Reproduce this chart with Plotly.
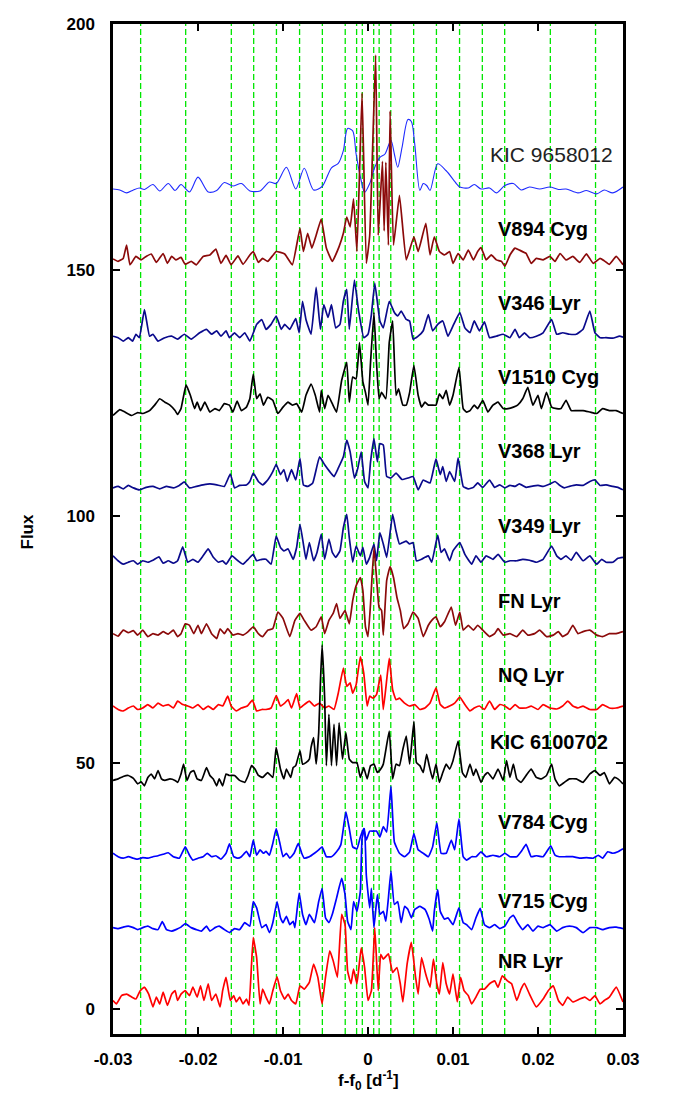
import plotly.graph_objects as go

# Frequencies are listed in units of 1e-4 d^-1 (f - f0); flux in the plot's offset units.
FREQ_UNIT = 1e-4

kic9658012 = [(-300,166.5),(-292,166.3),(-284,165.7),(-276,166.3),(-269,166.7),(-263,166.4),(-253,167.4),(-245,166.1),(-235,167.6),(-227,166.2),(-220,167.4),(-210,165.9),(-200,168.9),(-188,165.9),(-178,166.2),(-169,167.8),(-159,167.1),(-149,167.6),(-139,166.1),(-127,166.1),(-116,167.9),(-108,167.6),(-96,170.9),(-85,166.5),(-75,170.7),(-64,166.3),(-54,167.0),(-43,170.8),(-35,171.7),(-29,174.3),(-24,178.8),(-18,178.3),(-14,173.6),(-8,168.2),(-4,165.8),(2,167.6),(8,170.9),(14,172.9),(20,173.6),(27,176.4),(31,173.6),(35,170.9),(40,174.9),(47,180.6),(51,180.2),(55,175.6),(61,166.2),(65,167.6),(69,167.2),(73,166.2),(82,171.6),(92,170.2),(104,167.6),(108,166.9),(118,166.7),(125,167.4),(133,166.5),(143,166.7),(151,165.7),(161,167.2),(171,167.6),(180,166.3),(190,166.9),(202,166.5),(214,166.9),(224,166.4),(233,166.5),(247,165.7),(257,166.2),(269,165.5),(278,166.3),(288,165.7),(300,166.9)]

v894cyg = [(-300,152.3),(-294,151.8),(-288,152.4),(-284,155.1),(-280,151.1),(-273,152.8),(-267,152.1),(-261,152.8),(-255,153.3),(-249,151.6),(-241,153.4),(-236,151.4),(-231,152.8),(-226,152.1),(-220,152.6),(-215,151.2),(-208,151.8),(-202,151.1),(-194,152.8),(-186,153.1),(-179,154.3),(-173,151.4),(-167,153.0),(-161,151.1),(-153,152.9),(-147,151.2),(-139,153.1),(-135,153.8),(-129,151.6),(-124,152.4),(-118,151.8),(-112,153.0),(-108,153.8),(-98,153.3),(-89,151.1),(-80,158.5),(-76,153.8),(-71,157.5),(-66,154.5),(-61,157.1),(-55,160.4),(-49,154.5),(-42,151.8),(-34,154.8),(-29,157.5),(-25,160.8),(-21,158.8),(-17,164.5),(-13,153.8),(-7,186.0),(-2,151.4),(2,157.0),(9,193.7),(12,157.1),(17,172.1),(19,158.0),(21,171.9),(24,155.1),(26,182.3),(30,155.1),(37,165.2),(45,152.1),(54,156.8),(59,153.8),(68,159.5),(73,153.1),(78,156.8),(84,153.8),(90,153.1),(96,153.8),(100,151.4),(106,153.4),(112,152.1),(118,154.1),(124,152.1),(129,153.8),(133,154.6),(139,152.1),(145,153.1),(151,152.1),(157,151.8),(161,150.8),(167,153.1),(173,154.5),(178,154.1),(186,153.4),(192,151.4),(198,152.4),(206,152.1),(214,152.8),(220,151.8),(226,153.4),(233,152.1),(241,152.8),(249,151.6),(257,153.3),(265,151.4),(273,152.4),(278,151.9),(284,151.2),(292,152.8),(300,151.1)]

v346lyr = [(-300,136.6),(-294,136.3),(-288,135.6),(-282,136.3),(-277,135.6),(-273,137.0),(-269,136.3),(-263,142.0),(-257,136.6),(-253,137.0),(-247,135.6),(-239,136.3),(-231,136.6),(-224,136.0),(-216,137.0),(-208,136.0),(-198,137.3),(-190,138.0),(-184,137.0),(-178,137.7),(-173,136.6),(-167,137.7),(-163,136.3),(-157,137.3),(-151,136.3),(-145,137.3),(-139,135.6),(-131,139.0),(-125,140.0),(-120,138.0),(-114,139.0),(-108,140.7),(-102,138.0),(-98,139.0),(-92,138.0),(-85,140.2),(-81,137.3),(-77,143.7),(-73,140.0),(-67,137.0),(-61,146.5),(-56,138.0),(-52,143.0),(-47,140.4),(-43,143.0),(-38,138.3),(-33,139.0),(-29,143.7),(-25,146.1),(-22,138.0),(-16,148.0),(-11,141.7),(-5,136.3),(0,137.0),(4,141.0),(8,147.4),(14,139.7),(18,138.3),(25,143.7),(31,141.4),(35,140.7),(39,141.7),(45,140.0),(49,139.7),(53,136.0),(59,136.6),(65,137.7),(71,141.0),(76,137.7),(82,139.0),(88,139.7),(94,136.6),(100,138.7),(108,141.4),(114,138.3),(120,137.3),(125,139.7),(131,137.7),(137,139.5),(143,136.3),(151,136.6),(159,137.0),(167,136.3),(173,138.0),(178,136.3),(184,137.3),(190,136.3),(198,136.6),(206,137.3),(216,140.0),(222,137.0),(229,137.3),(237,137.0),(245,137.0),(253,138.0),(261,141.7),(267,137.3),(273,136.3),(280,136.3),(288,136.2),(296,136.6),(300,136.4)]

v1510cyg = [(-300,120.5),(-292,121.7),(-286,121.2),(-278,120.5),(-271,121.1),(-265,120.9),(-257,121.5),(-251,122.6),(-245,123.9),(-239,123.2),(-233,122.6),(-227,121.5),(-224,120.7),(-220,121.9),(-214,126.7),(-209,124.6),(-204,121.9),(-201,123.2),(-197,121.5),(-192,123.2),(-186,121.2),(-180,121.9),(-175,121.5),(-169,122.9),(-163,122.6),(-159,121.2),(-154,123.4),(-149,121.5),(-143,122.2),(-139,123.9),(-135,128.9),(-131,123.9),(-127,124.9),(-123,122.6),(-118,124.2),(-112,123.6),(-106,120.9),(-100,122.2),(-94,123.2),(-89,122.6),(-84,122.9),(-78,121.2),(-73,124.6),(-67,126.9),(-62,124.6),(-57,121.2),(-55,125.6),(-51,121.9),(-47,124.6),(-42,122.9),(-37,121.2),(-31,127.6),(-25,131.3),(-22,123.2),(-18,128.3),(-14,127.9),(-10,135.3),(-6,127.3),(-3,125.2),(0,122.6),(3,131.3),(7,141.4),(10,131.3),(13,123.9),(16,125.2),(21,123.9),(25,135.3),(29,139.7),(33,124.6),(36,125.9),(41,122.6),(45,122.6),(49,125.2),(54,130.7),(59,124.6),(63,122.2),(67,123.2),(71,122.6),(75,122.6),(80,122.6),(84,124.9),(88,123.9),(92,125.6),(96,122.6),(100,124.6),(107,130.3),(112,121.9),(116,121.2),(120,121.5),(125,122.6),(129,121.9),(135,123.6),(141,121.2),(147,122.6),(153,123.2),(159,121.9),(165,121.9),(171,122.2),(176,122.6),(182,123.9),(188,126.2),(194,122.6),(200,124.6),(204,121.9),(210,125.2),(216,122.2),(222,121.9),(227,121.9),(233,123.6),(239,121.5),(245,121.5),(253,121.5),(261,121.2),(269,120.9),(276,121.9),(284,121.5),(292,121.5),(300,120.9)]

v368lyr = [(-300,105.8),(-294,106.1),(-288,105.6),(-282,106.3),(-276,105.8),(-269,105.4),(-261,105.9),(-253,106.1),(-245,105.6),(-237,106.1),(-229,105.8),(-222,106.3),(-216,107.0),(-210,105.8),(-202,106.1),(-194,106.4),(-186,106.6),(-178,106.4),(-169,106.1),(-162,108.6),(-157,105.8),(-151,106.3),(-143,106.4),(-139,107.1),(-135,108.8),(-129,107.1),(-124,106.4),(-118,107.4),(-112,109.1),(-108,110.6),(-103,108.5),(-99,109.5),(-95,107.1),(-90,109.5),(-85,107.4),(-80,111.8),(-76,106.4),(-71,106.1),(-65,106.8),(-57,112.1),(-51,110.5),(-45,109.1),(-40,108.1),(-35,109.8),(-29,112.1),(-25,115.5),(-21,113.1),(-16,107.8),(-12,109.8),(-8,113.1),(-4,107.1),(0,105.8),(3,111.1),(7,115.8),(11,111.1),(14,114.8),(18,114.5),(22,108.1),(27,107.8),(33,108.8),(40,107.5),(47,107.8),(53,108.1),(59,105.4),(65,107.4),(73,106.8),(80,111.7),(85,108.5),(88,110.1),(92,107.1),(96,109.1),(102,107.1),(106,111.9),(112,106.1),(118,105.6),(124,105.9),(129,106.8),(135,105.9),(143,107.4),(149,105.9),(155,106.4),(161,105.8),(167,106.3),(173,106.1),(178,106.6),(186,105.9),(192,106.1),(200,106.3),(206,106.1),(214,106.6),(220,107.1),(225,106.4),(231,105.8),(237,106.1),(245,106.4),(253,106.3),(261,107.1),(267,107.4),(273,106.3),(280,106.4),(288,106.1),(294,105.9),(300,105.4)]

v349lyr = [(-300,92.0),(-294,91.0),(-288,90.3),(-282,90.7),(-276,91.0),(-271,90.3),(-265,91.0),(-259,90.7),(-253,91.1),(-246,91.8),(-241,90.5),(-235,91.0),(-229,90.5),(-224,91.0),(-218,93.8),(-212,90.7),(-206,91.3),(-200,90.7),(-194,92.0),(-188,93.4),(-182,91.7),(-176,90.7),(-171,91.0),(-167,90.3),(-160,92.0),(-153,91.0),(-147,90.3),(-141,91.3),(-135,92.3),(-131,91.0),(-125,91.3),(-120,91.3),(-114,90.3),(-108,96.0),(-103,93.7),(-99,93.0),(-94,93.4),(-88,91.3),(-84,93.7),(-80,98.4),(-76,94.4),(-73,91.3),(-69,94.7),(-64,91.0),(-60,92.7),(-55,96.4),(-51,91.3),(-46,95.4),(-42,92.7),(-38,91.7),(-33,93.0),(-29,97.7),(-25,100.4),(-22,95.7),(-18,90.7),(-14,94.0),(-9,92.0),(-6,93.7),(-2,90.3),(2,91.7),(7,94.4),(10,91.0),(14,96.7),(18,94.4),(22,91.7),(29,100.4),(33,97.0),(37,94.4),(41,94.7),(45,95.0),(49,94.4),(53,94.7),(57,91.0),(63,91.3),(67,91.7),(71,92.0),(75,90.7),(82,96.2),(86,92.7),(90,93.4),(96,91.0),(100,93.0),(108,94.7),(114,92.3),(122,90.3),(127,92.0),(133,90.7),(139,92.0),(147,91.3),(153,92.3),(161,90.7),(167,91.0),(175,91.0),(182,91.3),(190,91.1),(198,90.7),(206,91.3),(216,94.0),(222,92.0),(227,91.3),(233,92.0),(239,91.1),(245,92.7),(253,91.0),(261,92.0),(269,90.3),(275,91.3),(280,90.7),(288,90.7),(294,91.5),(300,91.7)]

fnlyr = [(-300,76.2),(-294,75.7),(-288,76.9),(-282,76.4),(-276,76.8),(-271,75.9),(-265,76.9),(-259,75.6),(-253,76.2),(-247,75.9),(-241,76.6),(-235,76.1),(-229,76.9),(-224,75.6),(-220,76.2),(-215,78.2),(-210,77.9),(-205,76.2),(-200,77.9),(-196,76.2),(-190,78.2),(-184,76.2),(-178,75.2),(-174,77.2),(-169,76.2),(-165,77.2),(-159,75.9),(-153,76.2),(-147,75.9),(-141,76.6),(-135,77.6),(-129,76.2),(-124,75.6),(-118,76.9),(-112,77.2),(-106,80.6),(-100,79.3),(-92,75.6),(-86,78.9),(-80,80.3),(-75,78.9),(-67,76.9),(-61,77.6),(-55,79.6),(-51,76.2),(-46,78.9),(-41,80.3),(-37,82.3),(-33,79.3),(-27,80.9),(-22,78.2),(-18,82.9),(-14,85.9),(-9,87.6),(-6,84.9),(-3,77.6),(0,75.6),(3,82.3),(7,93.7),(10,87.6),(13,81.6),(16,80.9),(18,75.9),(22,87.0),(26,89.8),(30,87.6),(34,83.6),(38,80.9),(42,77.2),(47,78.2),(53,80.6),(59,79.3),(65,75.6),(71,77.9),(75,78.9),(80,79.6),(85,77.6),(90,78.6),(98,81.6),(103,77.9),(108,80.6),(112,76.9),(118,77.9),(124,76.9),(129,77.9),(135,76.9),(143,75.6),(149,76.2),(153,77.2),(159,75.9),(167,76.2),(175,75.6),(182,76.9),(188,75.9),(196,76.2),(202,76.9),(210,75.6),(218,75.9),(224,76.6),(229,75.6),(235,76.2),(241,77.9),(247,76.2),(253,76.6),(261,76.9),(269,75.9),(276,75.6),(284,76.2),(292,76.2),(300,76.6)]

nqlyr = [(-300,61.5),(-294,60.8),(-288,60.5),(-282,61.1),(-276,61.5),(-271,60.8),(-265,61.1),(-259,61.8),(-253,61.1),(-247,62.1),(-241,61.5),(-235,61.8),(-229,61.1),(-224,62.5),(-218,61.8),(-212,61.5),(-206,61.1),(-200,61.8),(-194,60.8),(-188,61.5),(-182,60.8),(-176,61.8),(-171,61.5),(-165,63.5),(-161,61.5),(-155,60.5),(-149,61.1),(-142,61.5),(-136,62.7),(-131,60.5),(-125,60.8),(-120,60.8),(-114,61.1),(-108,63.6),(-103,61.5),(-98,62.1),(-94,62.8),(-90,61.1),(-84,64.0),(-80,61.1),(-75,61.8),(-69,62.5),(-63,61.5),(-57,62.1),(-51,61.1),(-46,61.5),(-40,60.8),(-35,64.1),(-29,69.2),(-25,65.5),(-21,66.2),(-18,64.1),(-14,65.8),(-9,71.5),(-5,68.2),(-1,61.5),(2,63.5),(6,63.1),(10,63.8),(15,67.8),(18,60.8),(22,66.8),(25,71.2),(29,64.8),(33,62.8),(37,63.1),(43,62.1),(49,61.5),(55,61.8),(61,60.8),(67,61.1),(73,62.1),(80,65.2),(85,61.8),(90,61.1),(96,61.5),(102,62.1),(108,63.3),(114,61.8),(120,60.5),(125,61.1),(131,61.5),(137,60.8),(143,62.5),(149,60.8),(155,61.8),(161,61.5),(167,60.8),(173,61.8),(178,61.1),(186,61.1),(192,61.5),(200,60.8),(206,61.8),(214,61.1),(222,60.9),(229,61.5),(235,62.5),(241,61.5),(247,61.1),(253,61.5),(261,60.8),(269,60.8),(276,61.8),(284,61.1),(292,61.1),(300,61.5)]

kic6100702 = [(-300,46.4),(-294,46.7),(-288,47.2),(-282,47.4),(-276,46.8),(-271,45.7),(-267,46.1),(-263,45.3),(-259,47.0),(-255,47.7),(-251,46.7),(-247,48.4),(-243,46.7),(-239,46.4),(-233,46.7),(-227,46.4),(-224,46.0),(-220,47.7),(-217,49.7),(-213,46.4),(-209,48.0),(-205,48.4),(-201,46.7),(-196,46.4),(-190,49.0),(-186,47.4),(-182,46.7),(-178,45.3),(-175,46.7),(-171,45.3),(-167,47.7),(-163,47.4),(-157,47.4),(-151,46.4),(-145,46.0),(-141,47.4),(-137,49.4),(-133,48.7),(-129,47.4),(-124,47.0),(-118,48.0),(-112,47.0),(-108,53.1),(-103,48.7),(-99,46.7),(-96,48.7),(-91,47.0),(-88,49.0),(-85,49.4),(-80,52.4),(-77,49.7),(-73,50.0),(-69,50.7),(-67,53.1),(-64,55.1),(-61,49.7),(-58,56.1),(-56,66.2),(-54,73.9),(-51,63.1),(-49,49.4),(-46,59.8),(-43,49.4),(-40,57.8),(-37,49.4),(-34,58.1),(-30,50.7),(-26,56.1),(-22,50.7),(-18,50.0),(-13,50.0),(-9,47.0),(-5,49.0),(-1,46.7),(3,49.4),(7,49.7),(11,48.0),(15,48.7),(18,49.7),(25,56.4),(29,46.7),(33,49.7),(37,49.4),(41,52.7),(45,55.4),(49,49.7),(54,58.4),(57,50.0),(61,49.4),(65,48.0),(69,51.7),(72,49.4),(76,46.7),(80,49.7),(84,46.0),(88,48.0),(92,49.7),(96,48.7),(100,50.4),(106,54.4),(111,48.0),(115,47.0),(120,49.7),(124,47.4),(127,48.7),(133,46.0),(137,47.4),(141,48.0),(147,46.7),(153,48.7),(159,46.4),(163,50.4),(167,47.0),(171,49.7),(175,46.7),(180,46.0),(186,47.4),(192,48.7),(198,47.0),(204,46.7),(210,47.4),(216,49.7),(220,46.7),(225,45.3),(231,46.0),(237,46.7),(245,46.7),(253,46.0),(261,47.7),(267,48.4),(273,47.4),(278,48.0),(284,45.7),(290,47.0),(294,46.7),(300,45.7)]

v784cyg = [(-300,31.6),(-294,30.9),(-288,30.6),(-282,30.9),(-276,30.6),(-271,30.4),(-265,30.7),(-259,30.6),(-253,30.9),(-247,31.1),(-241,31.4),(-235,31.7),(-229,30.9),(-222,30.6),(-215,32.9),(-210,31.2),(-206,30.2),(-200,30.6),(-194,30.9),(-189,31.6),(-184,30.9),(-179,31.1),(-173,30.4),(-167,31.6),(-163,33.5),(-158,30.9),(-153,30.6),(-149,30.9),(-143,32.0),(-139,30.9),(-135,34.3),(-131,31.2),(-127,32.3),(-123,31.6),(-120,32.0),(-116,31.2),(-112,33.6),(-108,36.6),(-104,33.9),(-100,30.9),(-96,31.6),(-92,30.6),(-87,31.6),(-82,33.6),(-78,31.6),(-75,30.6),(-69,30.9),(-63,31.6),(-58,32.3),(-54,32.9),(-49,30.9),(-43,30.9),(-37,31.9),(-32,33.3),(-26,40.0),(-22,36.6),(-18,32.9),(-13,32.5),(-9,34.9),(-5,36.6),(-2,34.3),(2,36.1),(6,36.1),(10,36.1),(14,34.9),(18,37.0),(22,35.9),(27,45.2),(31,33.9),(37,31.6),(43,30.9),(49,31.9),(54,35.6),(59,32.3),(65,31.6),(71,30.9),(76,32.9),(81,37.8),(86,31.6),(92,31.6),(98,34.3),(102,32.3),(107,38.6),(112,30.9),(116,30.2),(122,30.9),(127,30.9),(133,31.9),(139,30.9),(147,31.2),(155,30.9),(161,31.6),(167,30.9),(175,30.9),(180,31.9),(186,33.4),(192,30.9),(198,31.1),(206,30.9),(215,33.1),(220,31.2),(225,30.9),(233,30.9),(241,30.9),(249,30.6),(257,30.7),(265,30.6),(271,31.2),(276,30.6),(282,31.9),(288,31.6),(294,31.9),(300,32.5)]

v715cyg = [(-300,16.5),(-294,16.3),(-288,16.6),(-282,16.8),(-276,16.5),(-271,16.1),(-265,16.5),(-259,16.8),(-253,16.3),(-247,16.1),(-242,17.7),(-237,16.1),(-231,15.8),(-226,16.1),(-220,16.6),(-215,17.3),(-208,16.5),(-202,16.1),(-196,15.8),(-190,16.8),(-186,15.8),(-180,16.5),(-175,16.8),(-169,16.1),(-163,15.5),(-157,16.3),(-151,16.1),(-145,17.5),(-139,16.8),(-135,21.8),(-131,20.5),(-125,16.5),(-120,17.1),(-116,15.5),(-112,17.5),(-107,21.8),(-103,18.5),(-100,17.5),(-96,18.8),(-92,17.1),(-88,17.8),(-86,16.5),(-81,23.5),(-77,19.2),(-73,17.1),(-69,19.2),(-63,17.5),(-58,21.8),(-54,24.5),(-50,18.5),(-46,17.5),(-42,19.2),(-37,22.5),(-31,26.5),(-27,23.2),(-24,17.8),(-20,16.1),(-17,21.8),(-13,19.8),(-9,23.9),(-7,34.6),(-4,36.6),(-2,27.2),(2,20.5),(4,24.5),(7,16.5),(11,23.2),(14,19.2),(18,19.8),(21,17.8),(24,22.5),(27,28.0),(31,21.2),(35,21.8),(39,17.5),(43,20.8),(47,20.2),(51,18.5),(55,20.2),(61,20.8),(67,20.2),(72,18.2),(76,15.8),(78,19.8),(82,24.2),(85,19.8),(90,18.2),(94,18.5),(100,17.1),(107,20.5),(112,17.5),(116,17.1),(122,16.1),(127,18.5),(132,20.4),(137,17.1),(143,16.5),(149,17.1),(155,16.3),(161,16.8),(167,18.5),(171,19.0),(176,17.5),(182,16.1),(188,17.1),(194,15.8),(200,16.8),(206,16.5),(214,17.1),(222,15.8),(229,16.5),(237,16.8),(245,16.5),(253,15.5),(261,16.5),(269,16.5),(276,16.1),(284,16.5),(292,16.6),(300,16.3)]

nrlyr = [(-300,1.7),(-296,1.0),(-290,2.7),(-284,3.0),(-278,2.4),(-273,2.0),(-268,3.7),(-263,4.4),(-258,3.0),(-253,0.4),(-249,2.4),(-245,1.0),(-241,3.4),(-236,0.7),(-231,3.0),(-227,3.7),(-224,1.7),(-220,3.0),(-215,3.7),(-210,2.7),(-206,4.4),(-201,2.4),(-197,4.7),(-193,1.7),(-188,5.1),(-184,1.7),(-179,3.0),(-174,0.4),(-171,3.7),(-167,6.4),(-162,1.7),(-158,2.7),(-155,1.4),(-151,2.4),(-147,1.0),(-143,2.0),(-140,0.7),(-137,9.1),(-135,14.5),(-131,10.4),(-127,1.0),(-124,4.0),(-120,2.4),(-116,1.0),(-112,3.7),(-107,6.5),(-103,3.7),(-98,2.0),(-94,3.0),(-90,1.7),(-85,1.0),(-80,4.7),(-75,4.0),(-69,5.4),(-64,9.1),(-59,6.4),(-54,1.0),(-50,6.4),(-45,11.8),(-41,9.8),(-36,6.4),(-31,19.2),(-27,17.1),(-24,7.7),(-20,5.1),(-17,8.1),(-13,5.1),(-8,12.4),(-4,8.4),(0,1.7),(4,3.7),(8,16.5),(12,3.7),(15,11.1),(18,10.1),(24,11.2),(29,7.4),(34,8.4),(38,5.1),(41,1.4),(46,9.1),(51,13.5),(56,6.4),(59,3.0),(63,10.4),(67,7.7),(69,6.4),(73,4.4),(77,10.1),(81,5.1),(84,3.0),(88,9.4),(92,5.1),(96,3.0),(100,7.1),(105,1.4),(109,6.4),(113,3.7),(118,2.7),(122,1.0),(127,2.4),(132,4.0),(137,4.0),(143,5.1),(149,5.7),(153,4.4),(158,6.7),(164,5.7),(169,5.1),(175,1.7),(180,4.0),(184,5.2),(190,3.0),(198,0.4),(206,2.0),(212,3.7),(218,4.7),(224,1.7),(229,0.7),(235,2.4),(241,1.4),(249,2.0),(255,2.4),(261,1.7),(267,2.7),(273,1.0),(278,1.7),(284,2.4),(292,4.4),(300,1.4)]

star_names = ["KIC 9658012", "V894 Cyg", "V346 Lyr", "V1510 Cyg", "V368 Lyr", "V349 Lyr",
              "FN Lyr", "NQ Lyr", "KIC 6100702", "V784 Cyg", "V715 Cyg", "NR Lyr"]
star_spectra = [kic9658012, v894cyg, v346lyr, v1510cyg, v368lyr, v349lyr,
                fnlyr, nqlyr, kic6100702, v784cyg, v715cyg, nrlyr]

# Vertical reference frequencies (d^-1)
reference_freqs = [-0.02675, -0.02145, -0.01608, -0.01345, -0.01077, -0.00805, -0.00537, -0.00268,
                   -0.00134, -0.00067, 0.00067, 0.00131, 0.00268, 0.00537, 0.00805, 0.01077,
                   0.01345, 0.01608, 0.02145, 0.02677]

x_tick_vals = [-0.03, -0.02, -0.01, 0, 0.01, 0.02, 0.03]
x_tick_text = ["-0.03", "-0.02", "-0.01", "0", "0.01", "0.02", "0.03"]
y_tick_vals = [0, 50, 100, 150, 200]
y_tick_text = ["0", "50", "100", "150", "200"]

# ---------------- styles ----------------
line_styles = {
    "KIC 9658012": ("#1f2bff", 1.1, 0.8),
    "V894 Cyg": ("#8b0a0a", 1.7, 0.35),
    "V346 Lyr": ("#0a0a8c", 1.7, 0.35),
    "V1510 Cyg": ("#000000", 1.7, 0.35),
    "V368 Lyr": ("#0a0a8c", 1.7, 0.35),
    "V349 Lyr": ("#0a0a8c", 1.7, 0.35),
    "FN Lyr": ("#8b0a0a", 1.7, 0.35),
    "NQ Lyr": ("#ff0000", 1.7, 0.35),
    "KIC 6100702": ("#000000", 1.7, 0.35),
    "V784 Cyg": ("#0000ff", 1.7, 0.35),
    "V715 Cyg": ("#0000ff", 1.7, 0.35),
    "NR Lyr": ("#ff0000", 1.7, 0.35),
}
# label anchor (left edge x in d^-1, centre y in flux)
label_anchor = {
    "KIC 9658012": (0.01412, 173.5),
    "V894 Cyg": (0.01511, 158.3),
    "V346 Lyr": (0.01511, 143.4),
    "V1510 Cyg": (0.01511, 128.3),
    "V368 Lyr": (0.01511, 113.3),
    "V349 Lyr": (0.01511, 98.0),
    "FN Lyr": (0.01511, 82.9),
    "NQ Lyr": (0.01511, 67.8),
    "KIC 6100702": (0.01412, 54.1),
    "V784 Cyg": (0.01511, 38.0),
    "V715 Cyg": (0.01511, 21.9),
    "NR Lyr": (0.01511, 9.8),
}

FONT = "Liberation Sans, Arial, Helvetica, sans-serif"

fig = go.Figure()

for fx in reference_freqs:
    fig.add_vline(x=fx, line=dict(color="#00e600", width=1.3, dash="6px,3px"), layer="below")

for name, spec in zip(star_names, star_spectra):
    color, width, smooth = line_styles[name]
    fig.add_trace(go.Scatter(
        x=[p[0] * FREQ_UNIT for p in spec],
        y=[p[1] for p in spec],
        mode="lines",
        line=dict(color=color, width=width, shape="spline", smoothing=smooth),
        name=name, showlegend=False, hoverinfo="skip",
    ))

for name in star_names:
    lx, ly = label_anchor[name]
    if name == "KIC 9658012":
        txt, col, size = name, "#222222", 21
    else:
        txt, col, size = "<b>" + name + "</b>", "#000000", 20
    fig.add_annotation(x=lx, y=ly, xref="x", yref="y", text=txt, showarrow=False,
                       xanchor="left", yanchor="middle",
                       font=dict(family=FONT, size=size, color=col))

fig.add_annotation(xref="paper", yref="paper", x=-0.1667, y=0.4975, text="<b>Flux</b>",
                   textangle=-90, showarrow=False, xanchor="center", yanchor="middle",
                   font=dict(family=FONT, size=17, color="black"))
fig.add_annotation(xref="paper", yref="paper", x=0.5, y=-0.046,
                   text="<b>f-f<sub>0</sub> [d<sup>-1</sup>]</b>",
                   showarrow=False, xanchor="center", yanchor="middle",
                   font=dict(family=FONT, size=17, color="black"))

axis_common = dict(showgrid=False, zeroline=False, showline=True, linecolor="black", linewidth=2.5,
                   mirror="ticks", ticks="inside", ticklen=7, tickwidth=2, tickcolor="black",
                   tickfont=dict(family=FONT, size=17, color="black", weight="bold"))

# The page body keeps its default 8px margin; plot area spans x 113..623 and y 15..1034 on screen.
fig.update_layout(
    width=665, height=1095,
    margin=dict(l=105, r=50, t=7, b=69),
    paper_bgcolor="white", plot_bgcolor="white",
    font=dict(family=FONT),
    xaxis=dict(range=[-0.03, 0.03], tickvals=x_tick_vals, ticktext=x_tick_text,
               ticklabelstandoff=8, **axis_common),
    yaxis=dict(range=[-5.1, 200], tickvals=y_tick_vals, ticktext=y_tick_text,
               ticklabelstandoff=12, **axis_common),
)

fig.write_html("out.html")
